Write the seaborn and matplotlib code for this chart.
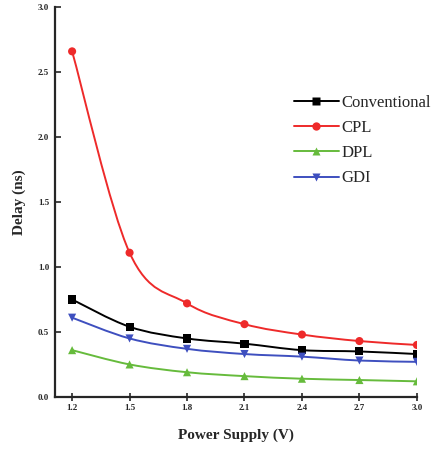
import numpy as np
import matplotlib
matplotlib.use("Agg")
import matplotlib.pyplot as plt
from matplotlib.path import Path
from matplotlib.patches import PathPatch
from matplotlib.lines import Line2D
import seaborn as sns
import pandas as pd

# Supply voltages (V)
voltage = [1.2, 1.5, 1.8, 2.1, 2.4, 2.7, 3.0]

# Delay (ns) for each logic style
conventional = [0.75, 0.54, 0.45, 0.41, 0.36, 0.35, 0.33]
cpl = [2.66, 1.11, 0.72, 0.56, 0.48, 0.43, 0.40]
dpl = [0.36, 0.25, 0.19, 0.16, 0.14, 0.13, 0.12]
gdi = [0.61, 0.45, 0.37, 0.33, 0.31, 0.28, 0.27]

series_names = ["Conventional", "CPL", "DPL", "GDI"]
x_ticks = [1.2, 1.5, 1.8, 2.1, 2.4, 2.7, 3.0]
y_ticks = [0.0, 0.5, 1.0, 1.5, 2.0, 2.5, 3.0]

colors = {"Conventional": "#000000", "CPL": "#ee2a2a",
          "DPL": "#66bb3c", "GDI": "#3e4fbf"}
markers = {"Conventional": "s", "CPL": "o", "DPL": "^", "GDI": "v"}

df = pd.DataFrame({
    "Voltage": voltage * 4,
    "Delay": conventional + cpl + dpl + gdi,
    "Style": np.repeat(series_names, len(voltage)),
})

sns.set_style("ticks")
plt.rcParams["font.family"] = ["Liberation Serif", "DejaVu Serif"]

fig = plt.figure(figsize=(4.32, 4.49), dpi=100)
ax = fig.add_axes([0.127, 0.116, 0.838, 0.868])


def smooth_path(xs, ys):
    """Catmull-Rom curve through the points, expressed as cubic Bezier segments."""
    xs = np.asarray(xs, float)
    ys = np.asarray(ys, float)
    pts = np.column_stack([xs, ys])
    n = len(pts)
    verts = [pts[0]]
    codes = [Path.MOVETO]
    for i in range(n - 1):
        p0 = pts[i - 1] if i > 0 else pts[i]
        p1 = pts[i]
        p2 = pts[i + 1]
        p3 = pts[i + 2] if i + 2 < n else pts[i + 1]
        c1 = p1 + (p2 - p0) / 6.0
        c2 = p2 - (p3 - p1) / 6.0
        verts += [c1, c2, p2]
        codes += [Path.CURVE4] * 3
    return Path(verts, codes)


for name in series_names:
    sub = df[df["Style"] == name]
    ax.add_patch(PathPatch(smooth_path(sub["Voltage"], sub["Delay"]),
                           fill=False, edgecolor=colors[name], lw=1.4, zorder=2))

sns.scatterplot(data=df, x="Voltage", y="Delay", hue="Style", style="Style",
                palette=colors, markers=markers, s=34, edgecolor="none",
                legend=False, ax=ax, zorder=3)

ax.set_xlim(1.11, 3.0)
ax.set_ylim(0.0, 3.0)
ax.set_xticks(x_ticks)
ax.set_yticks(y_ticks)
ax.set_xticklabels([f"{v:.1f}" for v in x_ticks], fontsize=6.5, fontweight="bold")
ax.set_yticklabels([f"{v:.1f}" for v in y_ticks], fontsize=6.5, fontweight="bold")
ax.tick_params(axis="x", direction="inout", length=6, width=1.2, pad=2)
ax.tick_params(axis="y", direction="in", length=4, width=1.2, pad=4)

for side in ("top", "right"):
    ax.spines[side].set_visible(False)
for side in ("left", "bottom"):
    ax.spines[side].set_linewidth(1.6)

ax.set_xlabel("Power Supply (V)", fontsize=11, fontweight="bold", labelpad=12)
ax.set_ylabel("Delay (ns)", fontsize=11, fontweight="bold", labelpad=9)

handles = [Line2D([0], [0], color=colors[n], marker=markers[n], lw=1.4,
                  markersize=6, markeredgecolor="none") for n in series_names]
ax.legend(handles, series_names, loc="upper left", bbox_to_anchor=(0.66, 0.775),
          frameon=False, fontsize=12, handlelength=2.7, handletextpad=0.15,
          labelspacing=0.55, borderaxespad=0, borderpad=0)

fig.savefig("out.png", dpi=100)
